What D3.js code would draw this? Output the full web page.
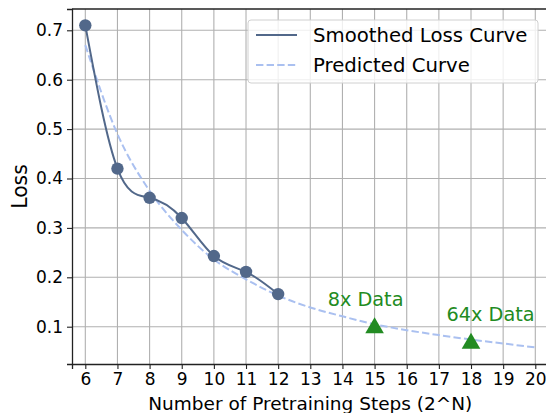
<!DOCTYPE html>
<html>
<head>
<meta charset="utf-8">
<script src="https://cdn.jsdelivr.net/npm/d3@7"></script>
<style>
  body { margin: 0; background: white; }
  text { font-family: "DejaVu Sans", sans-serif; }
</style>
</head>
<body>
<div id="grafico"></div>
<script>
// datos
var steps = [6, 7, 8, 9, 10, 11, 12];
var lossValues = [0.71, 0.42, 0.361, 0.32, 0.243, 0.211, 0.166];

var predSteps = [6, 7, 8, 9, 10, 11, 12, 13, 14, 15, 16, 17, 18, 19, 20];
var predValues = [0.67, 0.49, 0.375, 0.296, 0.236, 0.196, 0.163, 0.139, 0.121, 0.105, 0.093, 0.083, 0.074, 0.066, 0.058];

var targetSteps = [15, 18];
var targetValues = [0.103, 0.0715];
var targetLabels = ["8x Data", "64x Data"];
var labelX = [14.72, 18.61];
var labelY = [0.142, 0.1115];

var xTicks = [6, 7, 8, 9, 10, 11, 12, 13, 14, 15, 16, 17, 18, 19, 20];
var yTicks = [0.1, 0.2, 0.3, 0.4, 0.5, 0.6, 0.7];

var legendNames = ["Smoothed Loss Curve", "Predicted Curve"];

var w = 546,
    h = 413,
    margin = {top: 9, left: 72, bottom: 49, right: -2.6};

var lineColor = "#52688a",
    predColor = "#aac0f0",
    green = "#228b22",
    gridColor = "#b0b0b0";

var svg = d3.select("#grafico")
            .append("svg")
            .attr("width", w)
            .attr("height", h)
            .style("background-color", "white");

var width = w - margin.left - margin.right,
    height = h - margin.top - margin.bottom;

var g = svg.append("g").attr("transform", "translate(" + margin.left + "," + margin.top + ")");

var x = d3.scaleLinear().domain([5.586, 20.414]).range([0, width]);
var y = d3.scaleLinear().domain([0.0245, 0.7431]).range([height, 0]);

// rejilla
g.append("g").selectAll("line")
    .data(xTicks).enter().append("line")
    .attr("x1", function(d) { return x(d); })
    .attr("x2", function(d) { return x(d); })
    .attr("y1", 0).attr("y2", height)
    .attr("stroke", gridColor).attr("stroke-width", 1.1);

g.append("g").selectAll("line")
    .data(yTicks).enter().append("line")
    .attr("y1", function(d) { return y(d); })
    .attr("y2", function(d) { return y(d); })
    .attr("x1", 0).attr("x2", width)
    .attr("stroke", gridColor).attr("stroke-width", 1.1);

// ejes
var xAxis = d3.axisBottom(x).tickValues(xTicks).tickSize(5).tickPadding(4).tickFormat(d3.format("d"));
var yAxis = d3.axisLeft(y).tickValues(yTicks).tickSize(5).tickPadding(4).tickFormat(d3.format(".1f"));

var ax = g.append("g")
    .attr("transform", "translate(0," + height + ")")
    .call(xAxis);
var ay = g.append("g").call(yAxis);

[ax, ay].forEach(function(a) {
    a.selectAll("path").attr("stroke", "#222").attr("stroke-width", 1.3);
    a.selectAll("line").attr("stroke", "#222").attr("stroke-width", 1.1);
    a.selectAll("text").attr("fill", "#000").style("font-size", "17px").style("font-family", "DejaVu Sans");
});

// borde superior
g.append("line")
    .attr("x1", 0).attr("x2", width)
    .attr("y1", 0).attr("y2", 0)
    .attr("stroke", "#222").attr("stroke-width", 1.3);
g.append("line")
    .attr("x1", width).attr("x2", width)
    .attr("y1", 0).attr("y2", height)
    .attr("stroke", "#222").attr("stroke-width", 1.3);

// curva predicha
var predLine = d3.line()
    .x(function(d, i) { return x(predSteps[i]); })
    .y(function(d) { return y(d); })
    .curve(d3.curveMonotoneX);

g.append("path")
    .datum(predValues)
    .attr("d", predLine)
    .attr("fill", "none")
    .attr("stroke", predColor)
    .attr("stroke-width", 2)
    .attr("stroke-dasharray", "7.4,3.2");

// curva suavizada
var lossLine = d3.line()
    .x(function(d, i) { return x(steps[i]); })
    .y(function(d) { return y(d); })
    .curve(d3.curveNatural);

g.append("path")
    .datum(lossValues)
    .attr("d", lossLine)
    .attr("fill", "none")
    .attr("stroke", lineColor)
    .attr("stroke-width", 2);

g.selectAll(".punto")
    .data(lossValues).enter().append("circle")
    .attr("class", "punto")
    .attr("cx", function(d, i) { return x(steps[i]); })
    .attr("cy", function(d) { return y(d); })
    .attr("r", 6.2)
    .attr("fill", lineColor);

// triangulos (centrados por caja como en matplotlib)
var tri = d3.symbol().type(d3.symbolTriangle).size(150);
g.selectAll(".tri")
    .data(targetValues).enter().append("path")
    .attr("class", "tri")
    .attr("d", tri)
    .attr("transform", function(d, i) { return "translate(" + x(targetSteps[i]) + "," + (y(d) + 2.7) + ")"; })
    .attr("fill", green);

g.selectAll(".etiqueta")
    .data(targetLabels).enter().append("text")
    .attr("class", "etiqueta")
    .attr("x", function(d, i) { return x(labelX[i]); })
    .attr("y", function(d, i) { return y(labelY[i]); })
    .attr("text-anchor", "middle")
    .attr("fill", green)
    .style("font-size", "19.3px")
    .text(function(d) { return d; });

// leyenda
var lg = svg.append("g").attr("transform", "translate(248,20)");
lg.append("rect")
    .attr("width", 290).attr("height", 63)
    .attr("rx", 3)
    .attr("fill", "white").attr("fill-opacity", 0.8)
    .attr("stroke", "#d0d0d0").attr("stroke-width", 1);

legendNames.forEach(function(name, i) {
    var yy = 15 + i * 30;
    lg.append("line")
        .attr("x1", 8).attr("x2", 49)
        .attr("y1", yy).attr("y2", yy)
        .attr("stroke", i == 0 ? lineColor : predColor)
        .attr("stroke-width", 2)
        .attr("stroke-dasharray", i == 0 ? null : "7.4,3.2");
    lg.append("text")
        .attr("x", 65).attr("y", yy)
        .attr("dy", "0.36em")
        .attr("fill", "#000")
        .style("font-size", "19.7px")
        .text(name);
});

// titulos de ejes
svg.append("text")
    .attr("x", margin.left + width / 2)
    .attr("y", 410)
    .attr("text-anchor", "middle")
    .attr("fill", "#000")
    .style("font-size", "18.5px")
    .text("Number of Pretraining Steps (2^N)");

svg.append("text")
    .attr("transform", "translate(26.5," + (margin.top + height / 2) + ") rotate(-90)")
    .attr("text-anchor", "middle")
    .attr("fill", "#000")
    .style("font-size", "20.4px")
    .text("Loss");
</script>
</body>
</html>
